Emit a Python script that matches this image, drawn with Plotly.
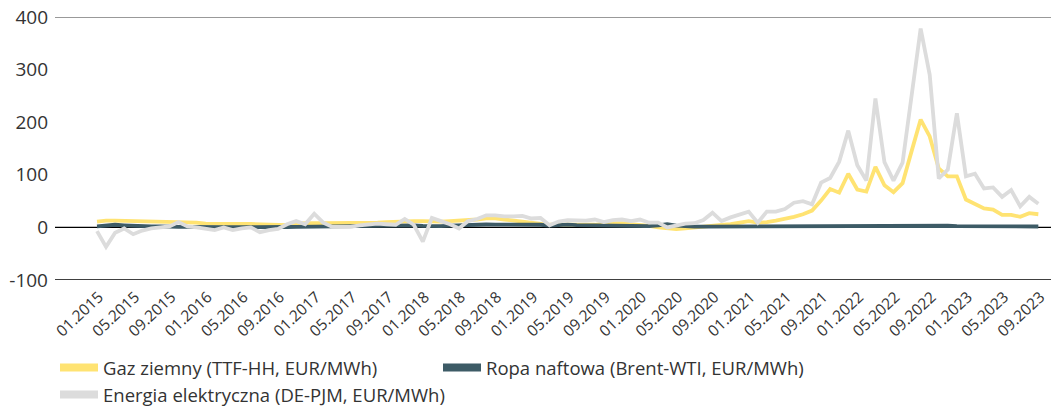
import plotly.graph_objects as go

# Monthly spreads, 01.2015 - 09.2023 (index 0 = 01.2015)
gas_ttf_hh = [
    11, 13, 13, 12.5, 12, 12, 12, 11.5, 11, 10.5, 10, 9,          # 2015
    7, 6.5, 6.5, 6.5, 6.5, 6.5, 6, 6, 5, 4.5, 7.5, 8.5,           # 2016
    8, 8, 8, 7.5, 7.5, 7.5, 8, 9, 10, 11, 12, 12,                 # 2017
    12, 11, 11, 12, 13, 13, 15, 17, 17, 15, 13, 12,               # 2018
    10, 8, 5, 5, 5, 6, 6, 5, 7, 8, 8, 6,                          # 2019
    5, 3, 0, -1, -3, -2, 0, 1, 4, 5, 6, 9,                        # 2020
    12, 9, 10, 13, 16, 20, 25, 32, 51, 73, 66, 102,               # 2021
    72, 68, 115, 80, 67, 84, 145, 205, 173, 112, 97, 97,          # 2022
    53, 45, 36, 34, 24, 24, 20, 27, 25,                           # 2023
]

oil_brent_wti = [
    2, 4, 5, 4, 3, 3, 2, 2, 1, 1, 1, 0.5,
    0.5, 0.5, 0.5, 0.5, 0.3, 0.5, 0.5, 1, 0.7, 0.8, 1, 1.3,
    1.5, 1.5, 1.5, 1.5, 1.6, 1.7, 2.5, 3, 3.5, 3.5, 3.6, 3.7,
    2.8, 2.3, 2.3, 3.2, 4.2, 5, 4.5, 5.5, 5.4, 5.5, 3.8, 4.7,
    5.4, 5, 3.5, 4.8, 5.3, 4.5, 4.3, 3.7, 3.3, 3.2, 2.8, 3.5,
    3.3, 2.6, 3.9, 6, 3.5, 1.8, 1.6, 1.5, 1.6, 1.4, 1.6, 1.8,
    1.5, 1.7, 1.7, 1.4, 1.5, 1.5, 1.6, 1.5, 1.4, 1.7, 1.7, 1.9,
    1.8, 2.5, 3.6, 3.2, 3.4, 3.6, 3.3, 3.6, 3.5, 3.3, 3.1, 2.6,
    2.4, 2, 2, 2.2, 2.3, 2.2, 1.5, 1.3, 1.7,
]

power_de_pjm = [
    -7, -37, -10, -2, -13, -6, -2, 0, 2, 10, 2, 0,
    -2, -5, 0, -5, -2, 0, -9, -5, -3, 6, 12, 6,
    26, 9, 1, 1, 1, 4, 5, 7, 6, 5, 16, 5,
    -27, 18, 12, 6, -2, 12, 16, 23, 23, 21, 21, 22,
    17, 18, 4, 11, 14, 14, 13, 15, 10, 14, 15, 12,
    15, 9, 9, 0, 4, 7, 8, 14, 28, 12, 19, 24,
    30, 9, 30, 30, 35, 47, 50, 44, 85, 94, 125, 184,
    118, 89, 245, 124, 89, 123, 250, 378, 290, 93, 110, 217,
    97, 102, 74, 76, 58, 71, 40, 58, 45,
]

months = [f"{k % 12 + 1:02d}.{2015 + k // 12}" for k in range(len(gas_ttf_hh))]
x_idx = list(range(len(months)))
tick_idx = x_idx[::4]
tick_text = [months[k] for k in tick_idx]

y_ticks = [-100, 0, 100, 200, 300, 400]
y_tick_text = [str(v) for v in y_ticks]

series = [
    ("Gaz ziemny (TTF-HH, EUR/MWh)", gas_ttf_hh, "#FFE372"),
    ("Ropa naftowa (Brent-WTI, EUR/MWh)", oil_brent_wti, "#3D5B66"),
    ("Energia elektryczna (DE-PJM, EUR/MWh)", power_de_pjm, "#DCDCDC"),
]

FONT = "Open Sans"
TEXT = "#333333"

fig = go.Figure()
for name, vals, color in series:
    fig.add_trace(go.Scatter(
        x=x_idx, y=vals, mode="lines", name=name,
        line=dict(color=color, width=3.8), showlegend=False,
        hoverinfo="skip",
    ))
# legend swatches drawn as thick bars
for name, vals, color in series:
    fig.add_trace(go.Scatter(
        x=[None], y=[None], mode="lines", name=name,
        line=dict(color=color, width=8), showlegend=True,
    ))

# frame lines: top at 400, zero line, bottom at -100
fig.add_shape(type="line", xref="paper", yref="y", x0=0, x1=1, y0=400, y1=400,
              line=dict(color="#777777", width=1.5), layer="below")
fig.add_shape(type="line", xref="paper", yref="y", x0=0, x1=1, y0=0, y1=0,
              line=dict(color="#000000", width=1.3), layer="below")
fig.add_shape(type="line", xref="paper", yref="y", x0=0, x1=1, y0=-100, y1=-100,
              line=dict(color="#000000", width=1.3), layer="above")

fig.update_layout(
    width=1051, height=406,
    margin=dict(l=55, r=0, t=17, b=126, autoexpand=False),
    paper_bgcolor="white", plot_bgcolor="white",
    font=dict(family=FONT, color=TEXT, size=16),
    xaxis=dict(
        range=[-4.64, 105.4], tickmode="array", tickvals=tick_idx, ticktext=tick_text,
        tickangle=-43, tickfont=dict(size=15.5, color=TEXT), showgrid=False,
        zeroline=False, showline=False, ticks="", ticklabelshift=2, ticklabelstandoff=4,
        ticklabeloverflow="allow", automargin=False,
    ),
    yaxis=dict(
        range=[-100, 400], tickmode="array", tickvals=y_ticks, ticktext=y_tick_text,
        tickfont=dict(size=19, color=TEXT), showgrid=False, zeroline=False,
        showline=False, ticks="", ticklabelstandoff=6, automargin=False,
    ),
    legend=dict(
        orientation="h", x=0.0, xanchor="left", y=-0.262, yanchor="top",
        entrywidth=330, entrywidthmode="pixels", itemwidth=38,
        font=dict(size=18.5, color=TEXT), tracegroupgap=0,
    ),
)

fig.write_html("out.html")
